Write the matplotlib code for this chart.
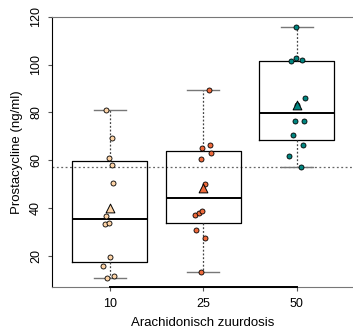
import numpy as np
import matplotlib.pyplot as plt

plt.rcParams['font.family'] = ['Liberation Sans', 'DejaVu Sans']

doses = ["10", "25", "50"]
colors = ["#FDD3A6", "#EE6A3C", "#008580"]

# prostacycline values per dose group (ng/ml)
vals_10 = [81.0, 69.4, 60.8, 57.8, 50.5, 36.6, 33.3, 33.6, 19.3, 15.8, 10.8, 11.7]
vals_25 = [89.3, 65.2, 66.3, 63.0, 60.3, 50.0, 36.9, 38.0, 38.8, 30.8, 27.5, 13.2]
vals_50 = [115.8, 101.3, 102.7, 101.9, 86.1, 83.1, 76.2, 76.6, 70.5, 66.3, 61.7, 57.1]

# horizontal jitter of the points as drawn
jit_10 = [-0.043, 0.018, -0.011, 0.025, 0.035, -0.043, -0.053, -0.011, 0.003, -0.078, -0.035, 0.043]
jit_25 = [0.061, -0.018, 0.071, 0.078, -0.029, 0.021, -0.089, -0.050, -0.014, -0.075, 0.021, -0.025]
jit_50 = [-0.014, -0.064, -0.014, 0.057, 0.082, 0.004, -0.025, 0.071, -0.046, 0.061, -0.082, 0.046]

# box statistics (fivenum style)
q1 = [17.5, 33.8, 68.4]
med = [35.2, 44.3, 79.8]
q3 = [59.5, 64.0, 101.6]
whislo = [10.8, 13.2, 57.1]
whishi = [81.0, 89.3, 115.8]

groups = [vals_10, vals_25, vals_50]
jitters = [jit_10, jit_25, jit_50]

fig = plt.figure(figsize=(3.53, 3.29), dpi=100)
ax = fig.add_axes([0.147, 0.128, 0.853, 0.821])

pos = np.arange(1, 4)
stats = []
for i in range(3):
    stats.append(dict(q1=q1[i], med=med[i], q3=q3[i],
                      whislo=whislo[i], whishi=whishi[i], fliers=[]))

ax.bxp(stats, positions=pos, widths=0.8, showfliers=False,
       boxprops=dict(color="black", linewidth=0.9),
       medianprops=dict(color="black", linewidth=1.4),
       whiskerprops=dict(color="#444444", linewidth=0.9, linestyle=(0, (1.5, 1.5))),
       capprops=dict(color="#777777", linewidth=1.0), capwidths=0.34,
       zorder=2)

allvals = np.concatenate([np.array(g) for g in groups])
ax.axhline(allvals.mean(), color="#666666", linewidth=0.9,
           linestyle=(0, (1.5, 2)), zorder=1)

for i, (g, j) in enumerate(zip(groups, jitters)):
    ax.scatter(pos[i] + np.array(j), g, s=13, color=colors[i],
               edgecolor="black", linewidth=0.6, zorder=4)
    ax.scatter(pos[i], np.mean(g), s=40, marker="^", color=colors[i],
               edgecolor="black", linewidth=0.7, zorder=5)

ax.set_xlim(0.38, 3.6)
ax.set_ylim(7, 120)
ax.set_xticks(pos)
ax.set_xticklabels(doses)
ax.set_yticks([20, 40, 60, 80, 100, 120])
for lab in ax.get_yticklabels():
    lab.set_rotation(90)
    lab.set_va("center")
ax.tick_params(axis="both", labelsize=9, length=3, color="#555555")
ax.tick_params(axis="x", pad=5)
ax.tick_params(axis="y", pad=4)

ax.spines["right"].set_visible(False)
ax.spines["top"].set_color("#777777")
ax.spines["bottom"].set_color("#777777")
ax.spines["left"].set_color("black")
ax.plot([1, 3], [0, 0], color="black", linewidth=1.4,
        transform=ax.get_xaxis_transform(), clip_on=False, zorder=6)

ax.set_xlabel("Arachidonisch zuurdosis", fontsize=9.5, labelpad=5)
ax.set_ylabel("Prostacycline (ng/ml)", fontsize=9.5, labelpad=5)

fig.savefig("out.png", dpi=100)
